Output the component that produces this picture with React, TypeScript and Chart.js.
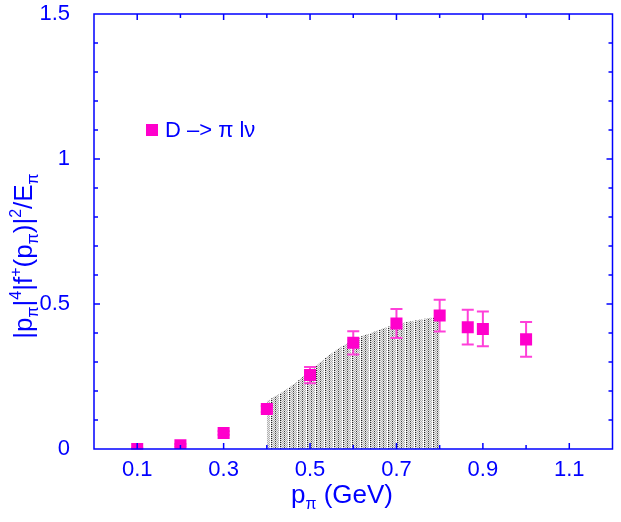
import React, { useEffect, useRef } from 'react';
import { Chart, registerables } from 'chart.js';
Chart.register(...registerables);

// Data
const pValues = [0.1, 0.2, 0.3, 0.4, 0.5, 0.6, 0.7, 0.8, 0.865, 0.9, 1.0];
const fValues = [0.0, 0.013, 0.055, 0.138, 0.255, 0.366, 0.433, 0.46, 0.42, 0.414, 0.378];
const fErrors = [0.003, 0.004, 0.006, 0.01, 0.028, 0.04, 0.05, 0.055, 0.06, 0.06, 0.06];
const bandX = [0.4, 0.45, 0.5, 0.55, 0.6, 0.65, 0.7, 0.75, 0.8];
const bandUpper = [0.165, 0.21, 0.27, 0.33, 0.376, 0.405, 0.43, 0.445, 0.458];
const xTickValues = [0.1, 0.2, 0.3, 0.4, 0.5, 0.6, 0.7, 0.8, 0.9, 1.0, 1.1];
const yTickValues = [0.1, 0.2, 0.3, 0.4, 0.5, 0.6, 0.7, 0.8, 0.9, 1.0, 1.1, 1.2, 1.3, 1.4];
const legendLabel = 'D \u2013> \u03c0 l\u03bd';

const BLUE = '#0000ff';
const MAGENTA = '#ff00cc';
const ERR = '#ff40d9';
const FONT = '"Liberation Sans", Arial, sans-serif';

function makePattern(ctx: CanvasRenderingContext2D): CanvasPattern | string {
  const W = 9;
  const H = 4;
  const c = document.createElement('canvas');
  c.width = W;
  c.height = H;
  const p = c.getContext('2d');
  if (!p) return '#aaa';
  p.fillStyle = '#ffffff';
  p.fillRect(0, 0, W, H);
  for (let x = 0; x < W; x++) {
    for (let y = 0; y < H; y++) {
      let col = '#ffffff';
      if (x === 0) col = '#ffffff';
      else if (x === 1) col = y % 2 === 0 ? '#222222' : '#d8d8d8';
      else if (x === 5) col = y % 2 === 1 ? '#444444' : '#e0e0e0';
      else col = (x + y) % 2 === 0 ? '#b0b0b0' : '#ececec';
      p.fillStyle = col;
      p.fillRect(x, y, 1, 1);
    }
  }
  return ctx.createPattern(c, 'repeat') || '#aaa';
}

function drawRich(ctx: CanvasRenderingContext2D, parts: [string, string][], big: number, small: number) {
  const fontFor = (k: string) => `${k === 'n' ? big : small}px ${FONT}`;
  let total = 0;
  for (const [t, k] of parts) {
    ctx.font = fontFor(k);
    total += ctx.measureText(t).width;
  }
  let x = -total / 2;
  for (const [t, k] of parts) {
    ctx.font = fontFor(k);
    const dy = k === 'sub' ? 6 : k === 'sup' ? -11 : 0;
    ctx.fillText(t, x, dy);
    x += ctx.measureText(t).width;
  }
}

const framePlugin = {
  id: 'frame',
  beforeDatasetsDraw(chart: any) {
    const ctx = chart.ctx as CanvasRenderingContext2D;
    const xs = chart.scales.x;
    const ys = chart.scales.y;
    ctx.save();
    ctx.strokeStyle = ERR;
    ctx.lineWidth = 2;
    pValues.forEach((p, i) => {
      const e = fErrors[i];
      const px = xs.getPixelForValue(p);
      const top = ys.getPixelForValue(fValues[i] + e);
      const bot = ys.getPixelForValue(Math.max(0, fValues[i] - e));
      ctx.beginPath();
      ctx.moveTo(px, top);
      ctx.lineTo(px, bot);
      ctx.moveTo(px - 6, top);
      ctx.lineTo(px + 6, top);
      ctx.moveTo(px - 6, bot);
      ctx.lineTo(px + 6, bot);
      ctx.stroke();
    });
    ctx.restore();
  },
  afterDatasetsDraw(chart: any) {
    const ctx = chart.ctx as CanvasRenderingContext2D;
    const a = chart.chartArea;
    const xs = chart.scales.x;
    const ys = chart.scales.y;
    ctx.save();
    ctx.strokeStyle = BLUE;
    ctx.lineWidth = 1.5;
    ctx.strokeRect(a.left, a.top, a.right - a.left, a.bottom - a.top);
    ctx.beginPath();
    xTickValues.forEach((v) => {
      const major = Math.round(v * 10) % 2 === 1;
      const len = major ? 6 : 4;
      const px = xs.getPixelForValue(v);
      ctx.moveTo(px, a.bottom);
      ctx.lineTo(px, a.bottom - len);
      ctx.moveTo(px, a.top);
      ctx.lineTo(px, a.top + len);
    });
    yTickValues.forEach((v) => {
      const major = Math.round(v * 10) % 5 === 0;
      const len = major ? 6 : 4;
      const py = ys.getPixelForValue(v);
      ctx.moveTo(a.left, py);
      ctx.lineTo(a.left + len, py);
      ctx.moveTo(a.right, py);
      ctx.lineTo(a.right - len, py);
    });
    ctx.stroke();
    ctx.restore();
  },
  afterDraw(chart: any) {
    const ctx = chart.ctx as CanvasRenderingContext2D;
    const a = chart.chartArea;
    ctx.save();
    ctx.fillStyle = BLUE;
    ctx.textBaseline = 'alphabetic';
    ctx.textAlign = 'left';
    // x title
    ctx.save();
    ctx.translate(342, 503);
    drawRich(ctx, [['p', 'n'], ['\u03c0', 'sub'], [' (GeV)', 'n']], 26, 16);
    ctx.restore();
    // y title
    ctx.save();
    ctx.translate(32, 256);
    ctx.rotate(-Math.PI / 2);
    drawRich(
      ctx,
      [
        ['|p', 'n'], ['\u03c0', 'sub'], ['|', 'n'], ['4', 'sup'], ['|f', 'n'], ['+', 'sup'],
        ['(p', 'n'], ['\u03c0', 'sub'], [')|', 'n'], ['2', 'sup'], ['/E', 'n'], ['\u03c0', 'sub'],
      ],
      26,
      16
    );
    ctx.restore();
    // legend
    const lx = a.left + 58;
    const ly = a.top + 116;
    ctx.fillStyle = MAGENTA;
    ctx.fillRect(lx - 6, ly - 6, 12, 12);
    ctx.fillStyle = BLUE;
    ctx.font = `22px ${FONT}`;
    ctx.textBaseline = 'middle';
    ctx.fillText(legendLabel, lx + 13, ly + 1);
    ctx.restore();
  },
};

export default function App() {
  const ref = useRef<HTMLCanvasElement>(null);
  useEffect(() => {
    const canvas = ref.current;
    if (!canvas) return;
    const ctx = canvas.getContext('2d');
    if (!ctx) return;
    const pattern = makePattern(ctx);
    const chart = new Chart(canvas, {
      type: 'scatter',
      data: {
        datasets: [
          {
            type: 'scatter',
            data: pValues.map((x, i) => ({ x, y: fValues[i] })),
            pointStyle: 'rect',
            pointRadius: 8.5,
            pointHoverRadius: 8.5,
            backgroundColor: MAGENTA,
            borderColor: MAGENTA,
            borderWidth: 0,
            order: 0,
          } as any,
          {
            type: 'line',
            data: bandX.map((x, i) => ({ x, y: bandUpper[i] })),
            fill: 'origin',
            backgroundColor: pattern,
            borderWidth: 0,
            borderColor: 'rgba(0,0,0,0)',
            pointRadius: 0,
            cubicInterpolationMode: 'monotone',
            order: 1,
          } as any,
        ],
      },
      options: {
        responsive: false,
        animation: false,
        layout: { padding: { left: 0, top: 14, right: 6, bottom: 0 } },
        plugins: {
          legend: { display: false },
          tooltip: { enabled: false },
          filler: { drawTime: 'beforeDatasetsDraw' },
        } as any,
        scales: {
          x: {
            type: 'linear',
            min: 0,
            max: 1.2,
            grid: { display: false },
            border: { display: false },
            ticks: {
              stepSize: 0.1,
              autoSkip: false,
              maxRotation: 0,
              color: BLUE,
              padding: 0,
              font: { family: FONT, size: 22 },
              callback: (v: any) => {
                const k = Math.round(Number(v) * 10);
                return k % 2 === 1 ? (k / 10).toString() : '';
              },
            },
            afterFit: (s: any) => {
              s.height = 73;
              s.paddingLeft = 0;
              s.paddingRight = 0;
            },
          },
          y: {
            type: 'linear',
            min: 0,
            max: 1.5,
            grid: { display: false },
            border: { display: false },
            ticks: {
              stepSize: 0.5,
              color: BLUE,
              padding: 16,
              font: { family: FONT, size: 22 },
              callback: (v: any) => String(Math.round(Number(v) * 10) / 10),
            },
            afterFit: (s: any) => {
              s.width = 94;
              s.paddingTop = 0;
              s.paddingBottom = 0;
            },
          },
        },
      } as any,
      plugins: [framePlugin],
    });
    return () => chart.destroy();
  }, []);
  return (
    <div style={{ position: 'fixed', left: 0, top: 0, width: 621, height: 522, background: '#fff' }}>
      <canvas ref={ref} width={621} height={522} style={{ width: 621, height: 522, display: 'block' }} />
    </div>
  );
}
